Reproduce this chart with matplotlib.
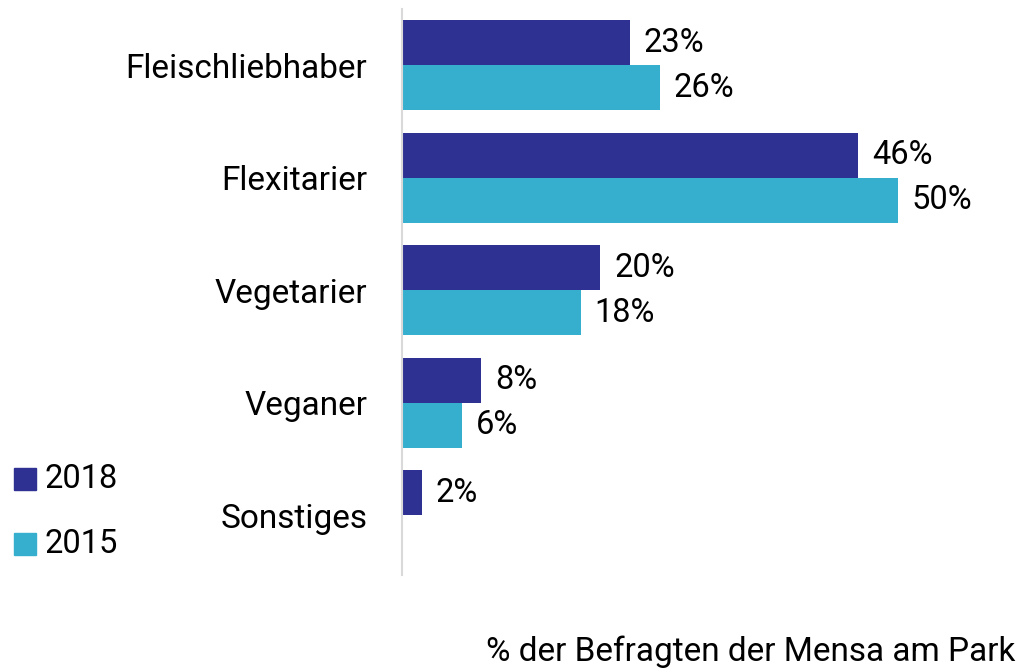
import matplotlib.pyplot as plt
import numpy as np

plt.rcParams['font.family'] = ['Roboto', 'DejaVu Sans']

categories = ['Fleischliebhaber', 'Flexitarier', 'Vegetarier', 'Veganer', 'Sonstiges']
vals_2018 = [23, 46, 20, 8, 2]
vals_2015 = [26, 50, 18, 6, None]
years = ['2018', '2015']
colors = ['#2E3192', '#36AFCF']

fig = plt.figure(figsize=(10.25, 6.7), dpi=100)
ax = fig.add_axes([402 / 1025, 95 / 670, 598 / 1025, 566 / 670])

Y = np.arange(len(categories))
h = 0.4
for off, vals, color in [(-h / 2, vals_2018, colors[0]), (h / 2, vals_2015, colors[1])]:
    for y, v in zip(Y, vals):
        if v is None:
            continue
        ax.barh(y + off, v, height=h, color=color)
        ax.text(v + 1.4, y + off, f'{v}%', va='center', ha='left', fontsize=23.5, color='black')

ax.set_xlim(0, 60.3)
ax.set_ylim(4.53, -0.5)
ax.set_yticks(Y)
ax.set_yticklabels(categories, fontsize=24)
ax.tick_params(axis='y', length=0, pad=25)
ax.set_xticks([])
for s in ['top', 'right', 'bottom']:
    ax.spines[s].set_visible(False)
ax.spines['left'].set_color('#D9D9D9')
ax.spines['left'].set_linewidth(1.5)

# legend
for i, (yr, c) in enumerate(zip(years, colors)):
    yc = 1 - (479 + 65 * i) / 670
    fig.patches.append(plt.Rectangle((14 / 1025, yc - 11 / 670), 22 / 1025, 22 / 670,
                                     transform=fig.transFigure, color=c))
    fig.text(45 / 1025, yc, yr, va='center', ha='left', fontsize=23.5)

fig.text(1015 / 1025, 1 - 652 / 670, '% der Befragten der Mensa am Park', ha='right', va='center', fontsize=24)

fig.savefig('out.png', dpi=100)
